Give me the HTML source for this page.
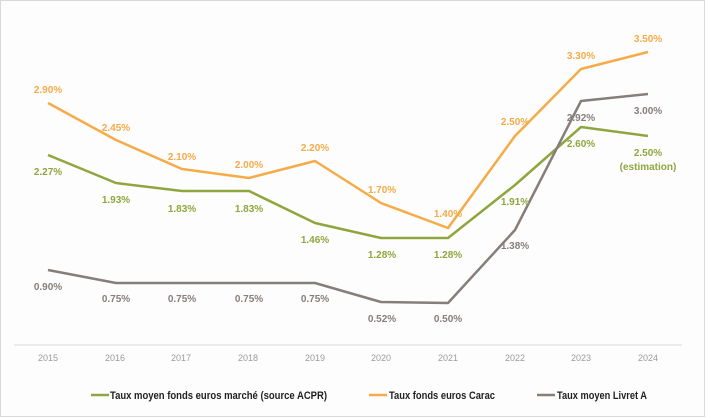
<!DOCTYPE html>
<html><head><meta charset="utf-8"><style>
html,body{margin:0;padding:0;background:#fff}
svg{display:block}
text{font-family:"Liberation Sans",sans-serif}
</style></head><body>
<svg width="710" height="419" viewBox="0 0 710 419" xmlns="http://www.w3.org/2000/svg">
<rect x="0.5" y="0.5" width="704" height="416" fill="#fdfdfd" stroke="#d9d9d9"/>
<line x1="14" y1="345" x2="682" y2="345" stroke="#d9d9d9" stroke-width="1"/>
<g font-size="9" fill="#9a9a9a" text-anchor="middle">
<text x="48" y="361">2015</text><text x="115" y="361">2016</text><text x="181" y="361">2017</text><text x="248" y="361">2018</text><text x="315" y="361">2019</text><text x="381" y="361">2020</text><text x="448" y="361">2021</text><text x="515" y="361">2022</text><text x="581" y="361">2023</text><text x="648" y="361">2024</text>
</g>
<g fill="none" stroke-width="2.5" stroke-linejoin="round">
<polyline stroke="#f5ab47" points="48,103 116,140 182,169 249,178 315,161 381,203 448,228 515,136 581,69 648,52"/>
<polyline stroke="#8fa63e" points="48,155 116,183 182,191 249,191 315,223 381,238 448,238 515,185 581,127 648,136"/>
<polyline stroke="#867e7b" points="48,270 116,283 182,283 249,283 315,283 381,302 448,303 515,230 581,101 648,94"/>
</g>
<g font-size="10" font-weight="bold" text-anchor="middle">
<g fill="#f5ab47">
<text x="48" y="93">2.90%</text><text x="116" y="131">2.45%</text><text x="182" y="160">2.10%</text><text x="249" y="168">2.00%</text><text x="315" y="151">2.20%</text><text x="382" y="193">1.70%</text><text x="448" y="217">1.40%</text><text x="515" y="125">2.50%</text><text x="581" y="59">3.30%</text><text x="648" y="42">3.50%</text>
</g>
<g fill="#8fa63e">
<text x="48" y="175">2.27%</text><text x="116" y="203">1.93%</text><text x="182" y="212">1.83%</text><text x="249" y="212">1.83%</text><text x="315" y="243">1.46%</text><text x="382" y="258">1.28%</text><text x="448" y="258">1.28%</text><text x="515" y="205">1.91%</text><text x="581" y="147">2.60%</text><text x="648" y="156">2.50%</text><text x="648" y="170">(estimation)</text>
</g>
<g fill="#867e7b">
<text x="48" y="290">0.90%</text><text x="116" y="302">0.75%</text><text x="182" y="302">0.75%</text><text x="249" y="302">0.75%</text><text x="315" y="302">0.75%</text><text x="382" y="322">0.52%</text><text x="448" y="322">0.50%</text><text x="515" y="249">1.38%</text><text x="581" y="121">2.92%</text><text x="648" y="114">3.00%</text>
</g>
</g>
<g stroke-width="2.5">
<line x1="91" y1="395" x2="109" y2="395" stroke="#8fa63e"/>
<line x1="369" y1="395" x2="387" y2="395" stroke="#f5ab47"/>
<line x1="537" y1="395" x2="555" y2="395" stroke="#867e7b"/>
</g>
<g font-size="11" font-weight="bold" fill="#222">
<text x="110" y="399" textLength="217" lengthAdjust="spacingAndGlyphs">Taux moyen fonds euros marché (source ACPR)</text>
<text x="389" y="399" textLength="106" lengthAdjust="spacingAndGlyphs">Taux fonds euros Carac</text>
<text x="557" y="399" textLength="90" lengthAdjust="spacingAndGlyphs">Taux moyen Livret A</text>
</g>
</svg>
</body></html>
